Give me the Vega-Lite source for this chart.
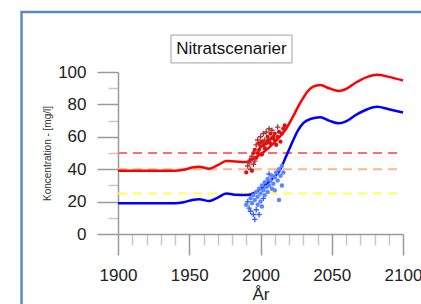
{
  "$schema": "https://vega.github.io/schema/vega-lite/v6.json",
  "width": 285,
  "height": 162,
  "autosize": {"type": "none"},
  "padding": {"left": 118, "top": 72, "right": 18, "bottom": 70},
  "background": "white",
  "config": {"font": "Liberation Sans", "view": {"stroke": null}},
  "data": {"values": [{}]},
  "resolve": {"axis": {"x": "independent", "y": "independent"}},
  "datasets": {
    "lines": [
      {"series": "upper", "year": 1900, "value": 39},
      {"series": "upper", "year": 1920, "value": 39},
      {"series": "upper", "year": 1940, "value": 39},
      {"series": "upper", "year": 1946, "value": 39.6},
      {"series": "upper", "year": 1952, "value": 41},
      {"series": "upper", "year": 1957, "value": 41.5},
      {"series": "upper", "year": 1964, "value": 40.3},
      {"series": "upper", "year": 1970, "value": 42.5},
      {"series": "upper", "year": 1976, "value": 45},
      {"series": "upper", "year": 1983, "value": 44.7},
      {"series": "upper", "year": 1990, "value": 44.5},
      {"series": "upper", "year": 1996, "value": 47},
      {"series": "upper", "year": 2002, "value": 50.5},
      {"series": "upper", "year": 2008, "value": 55},
      {"series": "upper", "year": 2014, "value": 60.5},
      {"series": "upper", "year": 2018, "value": 65},
      {"series": "upper", "year": 2021, "value": 69.5},
      {"series": "upper", "year": 2024, "value": 74.5},
      {"series": "upper", "year": 2027, "value": 79.5},
      {"series": "upper", "year": 2030, "value": 84},
      {"series": "upper", "year": 2033, "value": 88},
      {"series": "upper", "year": 2037, "value": 91},
      {"series": "upper", "year": 2042, "value": 92},
      {"series": "upper", "year": 2048, "value": 90},
      {"series": "upper", "year": 2055, "value": 88.3},
      {"series": "upper", "year": 2060, "value": 89.5},
      {"series": "upper", "year": 2067, "value": 93.5},
      {"series": "upper", "year": 2075, "value": 97},
      {"series": "upper", "year": 2082, "value": 98.3},
      {"series": "upper", "year": 2090, "value": 97},
      {"series": "upper", "year": 2100, "value": 94.8},
      {"series": "lower", "year": 1900, "value": 19},
      {"series": "lower", "year": 1920, "value": 19},
      {"series": "lower", "year": 1940, "value": 19},
      {"series": "lower", "year": 1946, "value": 19.6},
      {"series": "lower", "year": 1952, "value": 21},
      {"series": "lower", "year": 1957, "value": 21.5},
      {"series": "lower", "year": 1964, "value": 20.3},
      {"series": "lower", "year": 1970, "value": 22.5},
      {"series": "lower", "year": 1976, "value": 25},
      {"series": "lower", "year": 1983, "value": 24.2},
      {"series": "lower", "year": 1990, "value": 24},
      {"series": "lower", "year": 1996, "value": 25.5},
      {"series": "lower", "year": 2000, "value": 28},
      {"series": "lower", "year": 2005, "value": 31.5},
      {"series": "lower", "year": 2010, "value": 35.5},
      {"series": "lower", "year": 2014, "value": 40},
      {"series": "lower", "year": 2017, "value": 46},
      {"series": "lower", "year": 2020, "value": 52},
      {"series": "lower", "year": 2023, "value": 58},
      {"series": "lower", "year": 2026, "value": 63.5},
      {"series": "lower", "year": 2030, "value": 68.5},
      {"series": "lower", "year": 2035, "value": 71},
      {"series": "lower", "year": 2042, "value": 72},
      {"series": "lower", "year": 2048, "value": 70},
      {"series": "lower", "year": 2055, "value": 68.3},
      {"series": "lower", "year": 2060, "value": 69.5},
      {"series": "lower", "year": 2067, "value": 73.5},
      {"series": "lower", "year": 2075, "value": 77},
      {"series": "lower", "year": 2082, "value": 78.5},
      {"series": "lower", "year": 2090, "value": 77},
      {"series": "lower", "year": 2100, "value": 75}
    ],
    "obs": [
      {"series": "upper", "kind": "o", "year": 1990, "value": 38},
      {"series": "upper", "kind": "+", "year": 1991, "value": 42},
      {"series": "upper", "kind": "+", "year": 1992, "value": 44},
      {"series": "upper", "kind": "+", "year": 1993, "value": 40},
      {"series": "upper", "kind": "o", "year": 1993, "value": 46},
      {"series": "upper", "kind": "+", "year": 1994, "value": 48},
      {"series": "upper", "kind": "o", "year": 1994, "value": 39},
      {"series": "upper", "kind": "+", "year": 1995, "value": 43},
      {"series": "upper", "kind": "o", "year": 1995, "value": 50},
      {"series": "upper", "kind": "+", "year": 1996, "value": 45},
      {"series": "upper", "kind": "o", "year": 1996, "value": 52},
      {"series": "upper", "kind": "o", "year": 1997, "value": 47},
      {"series": "upper", "kind": "+", "year": 1997, "value": 55},
      {"series": "upper", "kind": "o", "year": 1998, "value": 50},
      {"series": "upper", "kind": "+", "year": 1998, "value": 58},
      {"series": "upper", "kind": "o", "year": 1999, "value": 52},
      {"series": "upper", "kind": "o", "year": 1999, "value": 56},
      {"series": "upper", "kind": "o", "year": 2000, "value": 54},
      {"series": "upper", "kind": "+", "year": 2000, "value": 60},
      {"series": "upper", "kind": "o", "year": 2001, "value": 49},
      {"series": "upper", "kind": "o", "year": 2001, "value": 57},
      {"series": "upper", "kind": "o", "year": 2002, "value": 55},
      {"series": "upper", "kind": "+", "year": 2002, "value": 62},
      {"series": "upper", "kind": "o", "year": 2003, "value": 53},
      {"series": "upper", "kind": "+", "year": 2003, "value": 58},
      {"series": "upper", "kind": "o", "year": 2004, "value": 56},
      {"series": "upper", "kind": "+", "year": 2004, "value": 63},
      {"series": "upper", "kind": "o", "year": 2005, "value": 57},
      {"series": "upper", "kind": "o", "year": 2005, "value": 60},
      {"series": "upper", "kind": "o", "year": 2006, "value": 58},
      {"series": "upper", "kind": "+", "year": 2006, "value": 65},
      {"series": "upper", "kind": "o", "year": 2007, "value": 56},
      {"series": "upper", "kind": "o", "year": 2007, "value": 62},
      {"series": "upper", "kind": "o", "year": 2008, "value": 59},
      {"series": "upper", "kind": "+", "year": 2008, "value": 64},
      {"series": "upper", "kind": "o", "year": 2009, "value": 60},
      {"series": "upper", "kind": "o", "year": 2010, "value": 58},
      {"series": "upper", "kind": "o", "year": 2010, "value": 62},
      {"series": "upper", "kind": "o", "year": 2011, "value": 55},
      {"series": "upper", "kind": "o", "year": 2012, "value": 60},
      {"series": "upper", "kind": "+", "year": 2012, "value": 66},
      {"series": "upper", "kind": "o", "year": 2013, "value": 63},
      {"series": "upper", "kind": "o", "year": 2014, "value": 57},
      {"series": "upper", "kind": "o", "year": 2015, "value": 62},
      {"series": "upper", "kind": "o", "year": 2016, "value": 65},
      {"series": "upper", "kind": "o", "year": 2017, "value": 67},
      {"series": "lower", "kind": "o", "year": 1990, "value": 18},
      {"series": "lower", "kind": "+", "year": 1991, "value": 20},
      {"series": "lower", "kind": "+", "year": 1992, "value": 16},
      {"series": "lower", "kind": "o", "year": 1993, "value": 22},
      {"series": "lower", "kind": "+", "year": 1993, "value": 14},
      {"series": "lower", "kind": "o", "year": 1994, "value": 19},
      {"series": "lower", "kind": "+", "year": 1995, "value": 12},
      {"series": "lower", "kind": "o", "year": 1995, "value": 24},
      {"series": "lower", "kind": "+", "year": 1996, "value": 9},
      {"series": "lower", "kind": "o", "year": 1996, "value": 21},
      {"series": "lower", "kind": "o", "year": 1997, "value": 26},
      {"series": "lower", "kind": "+", "year": 1997, "value": 15},
      {"series": "lower", "kind": "o", "year": 1998, "value": 23},
      {"series": "lower", "kind": "o", "year": 1998, "value": 18},
      {"series": "lower", "kind": "o", "year": 1999, "value": 28},
      {"series": "lower", "kind": "+", "year": 1999, "value": 12},
      {"series": "lower", "kind": "o", "year": 2000, "value": 25},
      {"series": "lower", "kind": "o", "year": 2000, "value": 20},
      {"series": "lower", "kind": "o", "year": 2001, "value": 30},
      {"series": "lower", "kind": "o", "year": 2001, "value": 17},
      {"series": "lower", "kind": "o", "year": 2002, "value": 27},
      {"series": "lower", "kind": "+", "year": 2002, "value": 22},
      {"series": "lower", "kind": "o", "year": 2003, "value": 32},
      {"series": "lower", "kind": "o", "year": 2003, "value": 24},
      {"series": "lower", "kind": "o", "year": 2004, "value": 29},
      {"series": "lower", "kind": "o", "year": 2005, "value": 34},
      {"series": "lower", "kind": "o", "year": 2005, "value": 26},
      {"series": "lower", "kind": "+", "year": 2006, "value": 37},
      {"series": "lower", "kind": "o", "year": 2006, "value": 30},
      {"series": "lower", "kind": "o", "year": 2007, "value": 33},
      {"series": "lower", "kind": "o", "year": 2008, "value": 28},
      {"series": "lower", "kind": "o", "year": 2008, "value": 36},
      {"series": "lower", "kind": "o", "year": 2009, "value": 31},
      {"series": "lower", "kind": "o", "year": 2010, "value": 35},
      {"series": "lower", "kind": "o", "year": 2010, "value": 27},
      {"series": "lower", "kind": "o", "year": 2011, "value": 38},
      {"series": "lower", "kind": "o", "year": 2012, "value": 33},
      {"series": "lower", "kind": "o", "year": 2013, "value": 21},
      {"series": "lower", "kind": "o", "year": 2013, "value": 40},
      {"series": "lower", "kind": "o", "year": 2014, "value": 36},
      {"series": "lower", "kind": "o", "year": 2015, "value": 42},
      {"series": "lower", "kind": "o", "year": 2015, "value": 30},
      {"series": "lower", "kind": "o", "year": 2016, "value": 38}
    ]
  },
  "layer": [
    {
      "data": {"name": "lines"},
      "mark": {"type": "line", "strokeOpacity": 0},
      "encoding": {
        "x": {
          "field": "year", "type": "quantitative",
          "scale": {"domain": [1900, 2100], "nice": false, "zero": false},
          "axis": {
            "orient": "bottom", "title": null, "labels": false, "domain": false, "grid": false,
            "values": [1910, 1920, 1930, 1940, 1960, 1970, 1980, 1990, 2010, 2020, 2030, 2040, 2060, 2070, 2080, 2090],
            "tickSize": 11, "tickColor": "#c8c8c8", "tickWidth": 1.5
          }
        },
        "y": {
          "field": "value", "type": "quantitative",
          "scale": {"domain": [0, 100], "nice": false, "zero": false},
          "axis": {
            "orient": "left", "title": null, "labels": false, "domain": false, "grid": false,
            "values": [10, 30, 50, 70, 90],
            "tickSize": 10, "tickColor": "#c8c8c8", "tickWidth": 1.5
          }
        },
        "detail": {"field": "series", "type": "nominal"}
      }
    },
    {
      "mark": {"type": "rect", "fill": "white", "fillOpacity": 0, "stroke": "#5b87c6", "strokeWidth": 2.5},
      "encoding": {
        "x": {"datum": 1832.3, "type": "quantitative", "axis": null},
        "x2": {"datum": 2400},
        "y": {"datum": 137, "type": "quantitative", "axis": null},
        "y2": {"datum": -200}
      }
    },
    {
      "mark": {"type": "rule", "color": "#ff6e6e", "strokeWidth": 2, "strokeDash": [9, 6]},
      "encoding": {"x": {"datum": 1900, "type": "quantitative", "axis": null}, "x2": {"datum": 2100}, "y": {"datum": 50, "type": "quantitative", "axis": null}}
    },
    {
      "mark": {"type": "rule", "color": "#ffb58a", "strokeWidth": 2, "strokeDash": [9, 6]},
      "encoding": {"x": {"datum": 1900, "type": "quantitative", "axis": null}, "x2": {"datum": 2100}, "y": {"datum": 40, "type": "quantitative", "axis": null}}
    },
    {
      "mark": {"type": "rule", "color": "#ffff55", "strokeWidth": 2, "strokeDash": [9, 6]},
      "encoding": {"x": {"datum": 1900, "type": "quantitative", "axis": null}, "x2": {"datum": 2100}, "y": {"datum": 25, "type": "quantitative", "axis": null}}
    },
    {
      "data": {"name": "lines"},
      "mark": {"type": "line", "interpolate": "monotone", "strokeWidth": 2.5},
      "encoding": {
        "x": {
          "field": "year", "type": "quantitative",
          "axis": {
            "orient": "bottom",
            "title": "År",
            "values": [1900, 1950, 2000, 2050, 2100],
            "format": "d",
            "tickSize": 21,
            "tickColor": "#9a9a9a",
            "tickWidth": 1.5,
            "domainColor": "#9a9a9a",
            "domainWidth": 1.5,
            "labelFontSize": 17,
            "labelColor": "#222",
            "labelPadding": 12,
            "labelFlush": false,
            "labelOverlap": false,
            "titleFontSize": 17,
            "titleFontWeight": "normal",
            "titleColor": "#222",
            "titlePadding": 3,
            "grid": false
          }
        },
        "y": {
          "field": "value", "type": "quantitative",
          "axis": {
            "orient": "left",
            "title": "Koncentration - [mg/l]",
            "values": [0, 20, 40, 60, 80, 100],
            "tickSize": 21,
            "tickColor": "#9a9a9a",
            "tickWidth": 1.5,
            "domainColor": "#9a9a9a",
            "domainWidth": 1.5,
            "labelFontSize": 17,
            "labelColor": "#222",
            "labelPadding": 11,
            "labelFlush": false,
            "labelOverlap": false,
            "titleFontSize": 10,
            "titleFontWeight": "normal",
            "titleColor": "#333",
            "titleX": -71,
            "titleY": 81,
            "titleAlign": "center",
            "titleBaseline": "middle",
            "grid": false
          }
        },
        "color": {"field": "series", "type": "nominal", "scale": {"domain": ["upper", "lower"], "range": ["#ff0000", "#0000ff"]}, "legend": null}
      }
    },
    {
      "data": {"name": "obs"},
      "transform": [{"filter": "datum.series === 'upper' && datum.kind === '+'"}],
      "mark": {"type": "point", "shape": "M-1,0L1,0M0,-1L0,1", "filled": false, "color": "#a83a3a", "strokeWidth": 1.4, "size": 30, "opacity": 1},
      "encoding": {"x": {"field": "year", "type": "quantitative", "axis": null}, "y": {"field": "value", "type": "quantitative", "axis": null}}
    },
    {
      "data": {"name": "obs"},
      "transform": [{"filter": "datum.series === 'upper' && datum.kind === 'o'"}],
      "mark": {"type": "circle", "color": "#dd1010", "size": 18, "opacity": 1},
      "encoding": {"x": {"field": "year", "type": "quantitative", "axis": null}, "y": {"field": "value", "type": "quantitative", "axis": null}}
    },
    {
      "data": {"name": "obs"},
      "transform": [{"filter": "datum.series === 'lower' && datum.kind === '+'"}],
      "mark": {"type": "point", "shape": "M-1,0L1,0M0,-1L0,1", "filled": false, "color": "#3d64f0", "strokeWidth": 1.4, "size": 30, "opacity": 1},
      "encoding": {"x": {"field": "year", "type": "quantitative", "axis": null}, "y": {"field": "value", "type": "quantitative", "axis": null}}
    },
    {
      "data": {"name": "obs"},
      "transform": [{"filter": "datum.series === 'lower' && datum.kind === 'o'"}],
      "mark": {"type": "circle", "color": "#5a86ff", "size": 20, "opacity": 1},
      "encoding": {"x": {"field": "year", "type": "quantitative", "axis": null}, "y": {"field": "value", "type": "quantitative", "axis": null}}
    },
    {
      "mark": {"type": "rect", "fill": "white", "stroke": "#a0a0a0", "strokeWidth": 1},
      "encoding": {
        "x": {"datum": 1937.2, "type": "quantitative", "axis": null},
        "x2": {"datum": 2022.1},
        "y": {"datum": 105.6, "type": "quantitative", "axis": null},
        "y2": {"datum": 122.8}
      }
    },
    {
      "mark": {"type": "text", "text": "Nitratscenarier", "fontSize": 17, "color": "#111", "align": "center", "baseline": "middle"},
      "encoding": {"x": {"datum": 1979.6, "type": "quantitative", "axis": null}, "y": {"datum": 114.2, "type": "quantitative", "axis": null}}
    }
  ]
}
